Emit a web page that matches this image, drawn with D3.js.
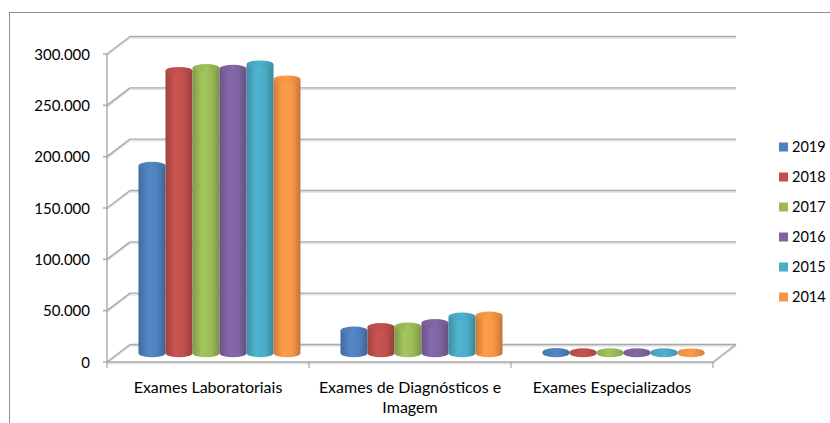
<!DOCTYPE html>
<html>
<head>
<meta charset="utf-8">
<script src="https://cdn.jsdelivr.net/npm/d3@7"></script>
<style>
  html, body { margin: 0; padding: 0; background: #fff; }
  svg { display: block; }
  text { font-family: Lato, "Open Sans", sans-serif; fill: #000; }
</style>
</head>
<body>
<svg id="chart" width="830" height="423"></svg>
<script>
// ---- data ----
const categories = ["Exames Laboratoriais", "Exames de Diagnósticos e Imagem", "Exames Especializados"];
const seriesNames = ["2019", "2018", "2017", "2016", "2015", "2014"];
const v2019 = [182600, 22200, 1100];
const v2018 = [275000, 25500, 1000];
const v2017 = [277800, 26100, 900];
const v2016 = [277100, 29400, 900];
const v2015 = [281300, 35800, 1000];
const v2014 = [266700, 36800, 800];
const seriesValues = [v2019, v2018, v2017, v2016, v2015, v2014];
const yTicks = [0, 50000, 100000, 150000, 200000, 250000, 300000];
const colors = ["#4F81BD", "#C0504D", "#9BBB59", "#8064A2", "#4BACC6", "#F79646"];

// ---- layout ----
const svg = d3.select("#chart");
const DX = 23, DY = -17.5;          // depth offset (front -> back)
const x = d3.scaleBand().domain(categories).range([107, 713]);
const xs = d3.scaleBand().domain(seriesNames).range([20, 182]);
const y = d3.scaleLinear().domain([0, 300000]).range([362, 54]);
const fmt = d3.formatLocale({decimal: ",", thousands: ".", grouping: [3], currency: ["", ""]}).format(",d");

// outer frame
svg.append("rect").attr("x", 9.5).attr("y", 12.5).attr("width", 900).attr("height", 500)
  .attr("fill", "none").attr("stroke", "#8e8e8e").attr("stroke-width", 1);

const defs = svg.append("defs");
colors.forEach((c, i) => {
  const g = defs.append("linearGradient").attr("id", "cyl" + i).attr("x1", "0%").attr("x2", "100%");
  const base = d3.color(c);
  g.append("stop").attr("offset", "0%").attr("stop-color", base.darker(0.55));
  g.append("stop").attr("offset", "35%").attr("stop-color", base.brighter(0.15));
  g.append("stop").attr("offset", "70%").attr("stop-color", base);
  g.append("stop").attr("offset", "100%").attr("stop-color", base.darker(0.7));
  const t = defs.append("linearGradient").attr("id", "top" + i).attr("x1", "0%").attr("x2", "100%");
  t.append("stop").attr("offset", "0%").attr("stop-color", base.darker(0.2));
  t.append("stop").attr("offset", "50%").attr("stop-color", base.brighter(0.1));
  t.append("stop").attr("offset", "100%").attr("stop-color", base.darker(0.4));
});

const gridG = svg.append("g");
const x0 = 107, x1 = 713;
function gline(xa, ya, xb, yb) {
  gridG.append("line").attr("x1", xa).attr("y1", ya + 1.5).attr("x2", xb).attr("y2", yb + 1.5)
    .attr("stroke", "#e2e2e2").attr("stroke-width", 1.5);
  gridG.append("line").attr("x1", xa).attr("y1", ya).attr("x2", xb).attr("y2", yb)
    .attr("stroke", "#a8a8a8").attr("stroke-width", 1.4);
}
// back wall gridlines + left wall diagonals
yTicks.forEach(t => {
  const yy = y(t);
  if (t > 0) gline(x0 + DX, yy + DY, x1 + DX, yy + DY);
  gline(x0, yy, x0 + DX, yy + DY);
});
// floor
gline(x0 + DX, y(0) + DY, x1 + DX, y(0) + DY);
gline(x1, y(0), x1 + DX, y(0) + DY);
gline(x0, y(0), x1, y(0));
// vertical axis
gridG.append("line").attr("x1", x0).attr("x2", x0).attr("y1", y(300000)).attr("y2", y(0) + 1)
  .attr("stroke", "#a8a8a8").attr("stroke-width", 1.4);
// y ticks + labels
yTicks.forEach(t => {
  gridG.append("line").attr("x1", x0 - 4).attr("x2", x0).attr("y1", y(t)).attr("y2", y(t))
    .attr("stroke", "#a8a8a8").attr("stroke-width", 1.4);
  svg.append("text").attr("x", 90).attr("y", y(t)).attr("dy", "0.38em")
    .attr("text-anchor", "end").style("font-size", "15px").text(fmt(t));
});
// x ticks
[x0, ...categories.map(c => x(c) + x.bandwidth())].forEach(xx => {
  gridG.append("line").attr("x1", xx).attr("x2", xx).attr("y1", y(0)).attr("y2", y(0) + 6)
    .attr("stroke", "#a8a8a8").attr("stroke-width", 1.2);
});

// bars (cylinders)
const barsG = svg.append("g");
const ry = 4;
categories.forEach((cat, ci) => {
  seriesNames.forEach((s, si) => {
    const v = seriesValues[si][ci];
    const bx = x(cat) + xs(s) + DX / 2;
    const w = xs.bandwidth();
    const rx = w / 2;
    const yb = y(0) + DY / 2;
    const yt = y(v) + DY / 2;
    barsG.append("path")
      .attr("d", `M${bx},${yt} L${bx},${yb} A${rx},${ry} 0 0 0 ${bx + w},${yb} L${bx + w},${yt} Z`)
      .attr("fill", `url(#cyl${si})`);
    barsG.append("ellipse").attr("cx", bx + rx).attr("cy", yt).attr("rx", rx).attr("ry", ry)
      .attr("fill", `url(#top${si})`);
  });
});

// category labels
const labelLines = [["Exames Laboratoriais"], ["Exames de Diagnósticos e", "Imagem"], ["Exames Especializados"]];
categories.forEach((c, i) => {
  const t = svg.append("text").attr("x", x(c) + x.bandwidth() / 2).attr("y", 393)
    .attr("text-anchor", "middle").style("font-size", "16px");
  labelLines[i].forEach((ln, k) => {
    t.append("tspan").attr("x", x(c) + x.bandwidth() / 2).attr("dy", k === 0 ? 0 : 20).text(ln);
  });
});

// legend
const lg = svg.append("g");
seriesNames.forEach((s, i) => {
  const ly = 147 + i * 30;
  lg.append("rect").attr("x", 779).attr("y", ly - 4.5).attr("width", 9).attr("height", 9).attr("fill", colors[i]);
  lg.append("text").attr("x", 792).attr("y", ly).attr("dy", "0.37em").style("font-size", "14.5px").text(s);
});
</script>
</body>
</html>
